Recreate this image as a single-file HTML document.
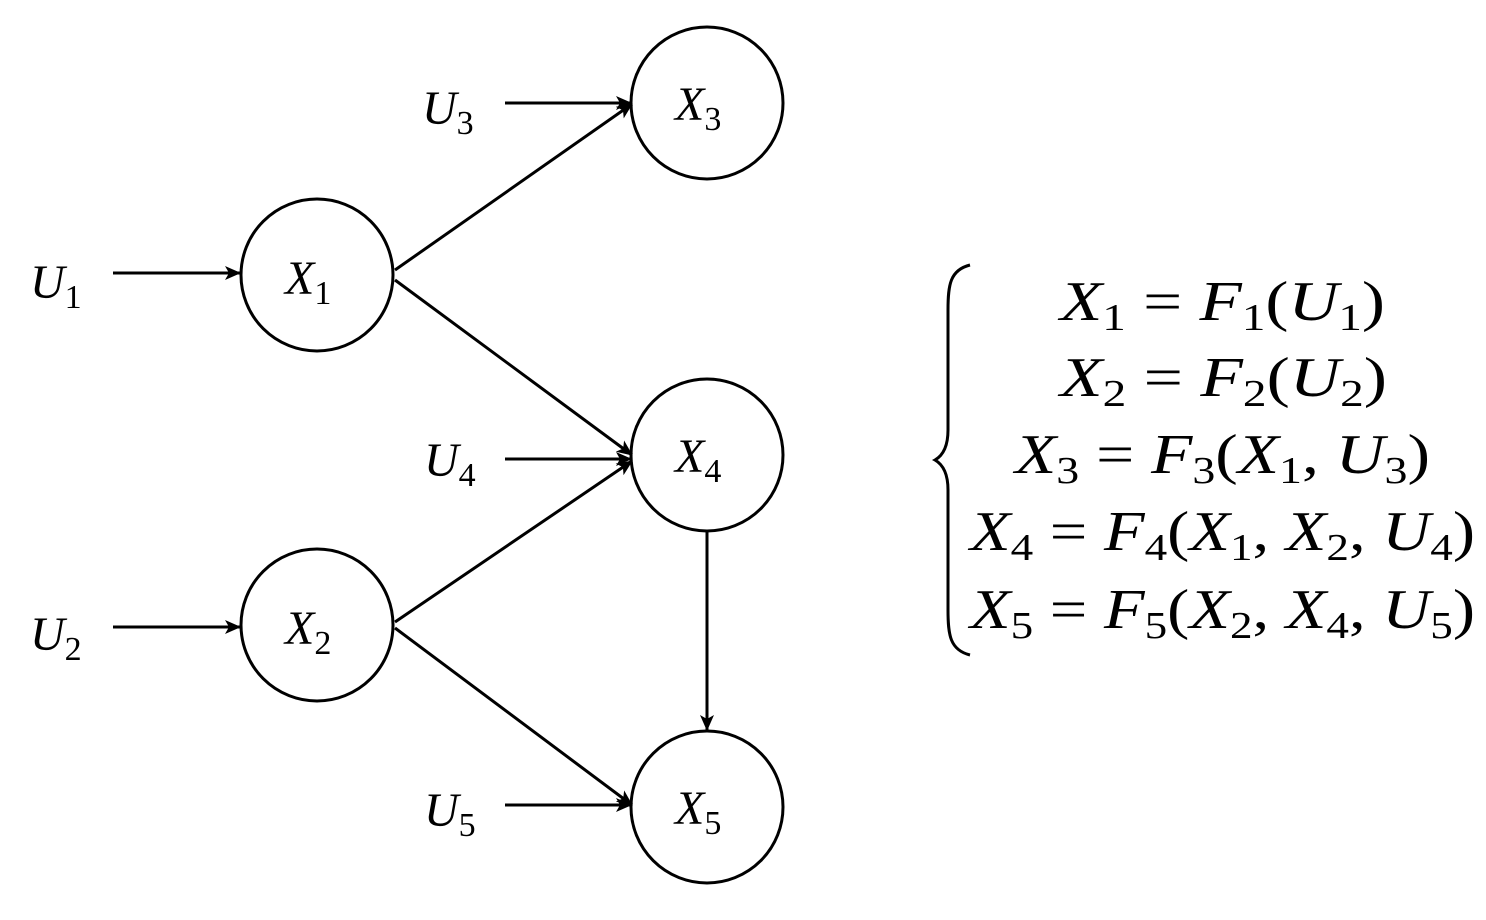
<!DOCTYPE html>
<html><head><meta charset="utf-8"><style>
html,body{margin:0;padding:0;background:#fff;}
svg text{font-family:"Liberation Serif",serif;fill:#000;}
.v{font-style:italic;font-size:48px;}
.s{font-style:normal;font-size:34px;}
.e{font-size:56px;}
.e .s{font-size:38px;}
</style></head><body>
<svg width="1486" height="915" viewBox="0 0 1486 915" xmlns="http://www.w3.org/2000/svg">
<defs><marker id="a" markerWidth="16" markerHeight="14" refX="15" refY="7" orient="auto" markerUnits="userSpaceOnUse"><path d="M0,0 L16,7 L0,14 L4,7 Z" fill="#000"/></marker></defs>
<g fill="none" stroke="#000" stroke-width="3">
<circle cx="317" cy="275" r="76"/>
<circle cx="707" cy="103" r="76"/>
<circle cx="707" cy="455" r="76"/>
<circle cx="317" cy="625" r="76"/>
<circle cx="707" cy="807" r="76"/>
<g marker-end="url(#a)">
<line x1="113" y1="273" x2="240" y2="273"/>
<line x1="505" y1="103" x2="631" y2="103"/>
<line x1="505" y1="459" x2="631" y2="459"/>
<line x1="113" y1="627" x2="240" y2="627"/>
<line x1="505" y1="805" x2="631" y2="805"/>
<line x1="395" y1="270" x2="632" y2="104"/>
<line x1="395" y1="280" x2="632" y2="455"/>
<line x1="395" y1="622" x2="632" y2="461"/>
<line x1="395" y1="628" x2="632" y2="805"/>
<line x1="707" y1="532" x2="707" y2="730"/>
</g>
<path d="M970,265 C950,270 948,285 948,310 L948,430 C948,448 942,456 935,460 C942,464 948,472 948,490 L948,610 C948,635 950,650 970,655" stroke-width="3"/>
</g>
<g class="v">
<text x="30" y="298">U<tspan class="s" dy="10">1</tspan></text>
<text x="30" y="650">U<tspan class="s" dy="10">2</tspan></text>
<text x="422" y="124">U<tspan class="s" dy="10">3</tspan></text>
<text x="424" y="476">U<tspan class="s" dy="10">4</tspan></text>
<text x="424" y="826">U<tspan class="s" dy="10">5</tspan></text>
<text x="285" y="294">X<tspan class="s" dy="10">1</tspan></text>
<text x="285" y="644">X<tspan class="s" dy="10">2</tspan></text>
<text x="675" y="120">X<tspan class="s" dy="10">3</tspan></text>
<text x="675" y="472">X<tspan class="s" dy="10">4</tspan></text>
<text x="675" y="824">X<tspan class="s" dy="10">5</tspan></text>
</g>
<g class="e">
<text x="1060" y="320" textLength="325" lengthAdjust="spacingAndGlyphs"><tspan font-style="italic">X</tspan><tspan class="s" dy="10">1</tspan><tspan dy="-10"> = </tspan><tspan font-style="italic">F</tspan><tspan class="s" dy="10">1</tspan><tspan dy="-10">(</tspan><tspan font-style="italic">U</tspan><tspan class="s" dy="10">1</tspan><tspan dy="-10">)</tspan></text>
<text x="1060" y="396" textLength="327" lengthAdjust="spacingAndGlyphs"><tspan font-style="italic">X</tspan><tspan class="s" dy="10">2</tspan><tspan dy="-10"> = </tspan><tspan font-style="italic">F</tspan><tspan class="s" dy="10">2</tspan><tspan dy="-10">(</tspan><tspan font-style="italic">U</tspan><tspan class="s" dy="10">2</tspan><tspan dy="-10">)</tspan></text>
<text x="1015" y="473" textLength="415" lengthAdjust="spacingAndGlyphs"><tspan font-style="italic">X</tspan><tspan class="s" dy="10">3</tspan><tspan dy="-10"> = </tspan><tspan font-style="italic">F</tspan><tspan class="s" dy="10">3</tspan><tspan dy="-10">(</tspan><tspan font-style="italic">X</tspan><tspan class="s" dy="10">1</tspan><tspan dy="-10">, </tspan><tspan font-style="italic">U</tspan><tspan class="s" dy="10">3</tspan><tspan dy="-10">)</tspan></text>
<text x="970" y="550" textLength="505" lengthAdjust="spacingAndGlyphs"><tspan font-style="italic">X</tspan><tspan class="s" dy="10">4</tspan><tspan dy="-10"> = </tspan><tspan font-style="italic">F</tspan><tspan class="s" dy="10">4</tspan><tspan dy="-10">(</tspan><tspan font-style="italic">X</tspan><tspan class="s" dy="10">1</tspan><tspan dy="-10">, </tspan><tspan font-style="italic">X</tspan><tspan class="s" dy="10">2</tspan><tspan dy="-10">, </tspan><tspan font-style="italic">U</tspan><tspan class="s" dy="10">4</tspan><tspan dy="-10">)</tspan></text>
<text x="970" y="628" textLength="505" lengthAdjust="spacingAndGlyphs"><tspan font-style="italic">X</tspan><tspan class="s" dy="10">5</tspan><tspan dy="-10"> = </tspan><tspan font-style="italic">F</tspan><tspan class="s" dy="10">5</tspan><tspan dy="-10">(</tspan><tspan font-style="italic">X</tspan><tspan class="s" dy="10">2</tspan><tspan dy="-10">, </tspan><tspan font-style="italic">X</tspan><tspan class="s" dy="10">4</tspan><tspan dy="-10">, </tspan><tspan font-style="italic">U</tspan><tspan class="s" dy="10">5</tspan><tspan dy="-10">)</tspan></text>
</g>
</svg>
</body></html>
